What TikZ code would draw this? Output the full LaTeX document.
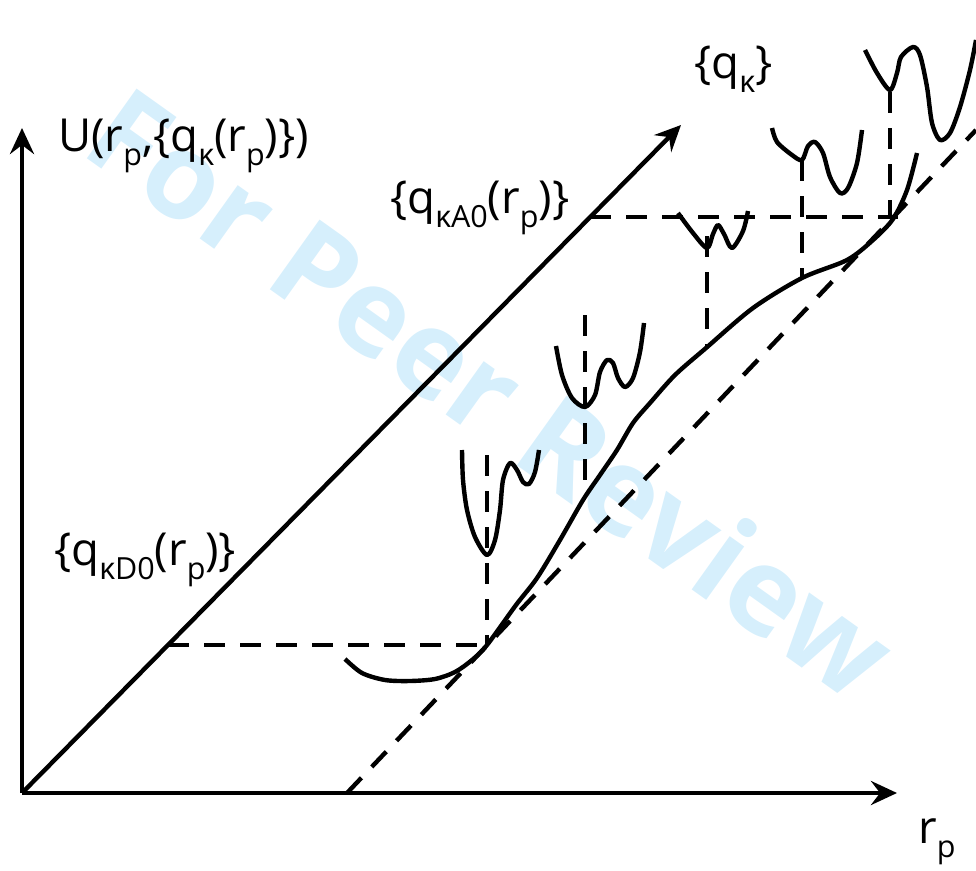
\documentclass[tikz,border=0pt]{standalone}
\usepackage{fontspec}
\setmainfont{Open Sans}
\usetikzlibrary{arrows.meta}
\definecolor{wmblue}{RGB}{214,239,252}
\newcommand{\sbs}[1]{\raisebox{-0.32em}{\fontsize{30.5}{30.5}\selectfont #1}}
\tikzset{
  ln/.style={line width=4.4pt, line join=round},
  dsh/.style={line width=4.4pt, dash pattern=on 21pt off 15pt},
  arr/.style={ln, -{Stealth[length=26pt,width=24pt,inset=9pt]}},
  lbl/.style={anchor=base west, inner sep=0pt, font=\fontsize{45.5}{45.5}\selectfont},
  wm/.style={text=wmblue, font=\fontsize{120}{120}\selectfont\bfseries, inner sep=0pt}
}
\begin{document}
\begin{tikzpicture}[x=1pt,y=-1pt]
\useasboundingbox (0,0) rectangle (976,870);
% watermark
\node[wm, rotate=-35.5] (wmk) at (492,392) {For Peer Review};
% key points
\coordinate (O) at (22,793);
\coordinate (Ytip) at (22,128);
\coordinate (Xtip) at (897,793);
\coordinate (Dtip) at (681,125);
\coordinate (L0) at (347,793);
\coordinate (L1) at (976,130);
\coordinate (D0) at (168,645);
\coordinate (D1) at (490,645);
\coordinate (A0) at (590,217);
\coordinate (A1) at (898,217);
% axes
\draw[arr] (O) -- (Ytip);
\draw[arr] (O) -- (Xtip);
\draw[arr] (O) -- (Dtip);
% dashed lines
\draw[dsh] (L0) -- (L1);
\draw[dsh] (D0) -- (D1);
\draw[dsh] (A0) -- (A1);
\coordinate (v1a) at (487,455); \coordinate (v1b) at (487,645);
\coordinate (v2a) at (585,315); \coordinate (v2b) at (585,495);
\coordinate (v3a) at (707,236); \coordinate (v3b) at (707,348);
\coordinate (v4a) at (802,160); \coordinate (v4b) at (802,278);
\coordinate (v5a) at (890,92);  \coordinate (v5b) at (890,218);
\draw[dsh] (v1a) -- (v1b);
\draw[dsh] (v2a) -- (v2b);
\draw[dsh] (v3a) -- (v3b);
\draw[dsh] (v4a) -- (v4b);
\draw[dsh] (v5a) -- (v5b);
% main curve
\draw[ln] plot[smooth, tension=0.5] coordinates {
 (345,659) (362,673) (385,680) (410,681) (435,679) (455,672) (472,660) (487,645)
 (516,605) (537,578) (560,540) (583,500) (600,475) (617,450) (633,423) (650,403)
 (675,375) (706,348) (753,308) (802,278) (847,260) (873,240) (893,219) (907,190) (917,153)};
% wells
\draw[ln] plot[smooth, tension=0.5] coordinates {
 (462,450) (463,480) (467,510) (475,537) (487,555) (495,540) (500,510) (503,480)
 (510,463) (517,470) (523,482) (529,484) (535,472) (539,450)};
\draw[ln] plot[smooth, tension=0.5] coordinates {
 (556,346) (562,375) (572,398) (585,407) (595,395) (600,372) (607,360) (613,363)
 (618,378) (625,387) (633,378) (640,352) (644,323)};
\draw[ln] plot[smooth, tension=0.5] coordinates {
 (678,213) (693,233) (707,248) (713,234) (718,225) (724,234) (732,248) (743,231) (748,211)};
\draw[ln] plot[smooth, tension=0.5] coordinates {
 (772,128) (777,142) (792,155) (802,160) (808,146) (815,142) (823,153) (830,177)
 (840,193) (848,188) (857,163) (862,130)};
\draw[ln] plot[smooth, tension=0.5] coordinates {
 (865,50) (877,73) (890,90) (897,73) (901,57) (913,47) (920,55) (927,87) (932,123)
 (940,140) (950,133) (960,107) (970,70) (976,40)};
% labels
\node[lbl] (lU) at (58,151) {U(r\sbs{p},\{q\sbs{κ}(r\sbs{p})\})};
\node[lbl] (lq) at (694,78) {\{q\sbs{κ}\}};
\node[lbl] (lA) at (390,213) {\{q\sbs{κA0}(r\sbs{p})\}};
\node[lbl] (lD) at (54,565) {\{q\sbs{κD0}(r\sbs{p})\}};
\node[lbl] (lr) at (918,843) {r\sbs{p}};
\end{tikzpicture}
\end{document}
